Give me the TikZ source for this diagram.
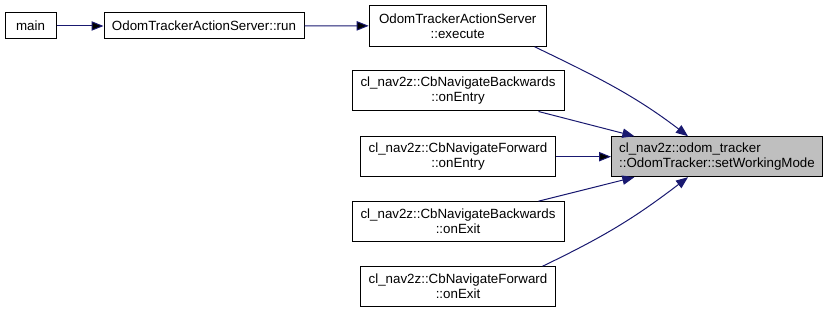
\documentclass[tikz,border=0pt]{standalone}
\usepackage{fontspec}
\setmainfont{Liberation Sans}
\usetikzlibrary{arrows.meta, positioning}
\usepackage{xcolor}
\definecolor{callblue}{HTML}{191970}
\definecolor{hilite}{HTML}{BFBFBF}

\begin{document}
\begin{tikzpicture}
[x = .75pt, y = -.75pt, font = \fontsize{10}{11.25}\selectfont,
 fn/.style = {rectangle, draw=black, line width=.75pt, fill=white, inner sep=0pt, align=center},
 call/.style = {-{Triangle[length=9pt, width=7pt]}, draw=callblue, line width=.75pt}]
\useasboundingbox (0,0) rectangle (828,313);

\node[fn, minimum width=38.25pt, minimum height=19.5pt] (n1) at (30.5,26) {main};
\node[fn, minimum width=150pt, minimum height=19.5pt] (n2) at (204,26) {OdomTrackerActionServer::run};
\node[fn, minimum width=132.75pt, minimum height=30.75pt] (n3) at (457.7,25.8) {OdomTrackerActionServer\\::execute};
\node[fn, minimum width=159pt, minimum height=30pt] (n4) at (458,91) {cl\_nav2z::CbNavigateBackwards\\::onEntry};
\node[fn, minimum width=146.25pt, minimum height=30pt] (n5) at (458,156.7) {cl\_nav2z::CbNavigateForward\\::onEntry};
\node[fn, minimum width=159pt, minimum height=30pt] (n6) at (458,221.7) {cl\_nav2z::CbNavigateBackwards\\::onExit};
\node[fn, minimum width=146.25pt, minimum height=30pt] (n7) at (458,286.7) {cl\_nav2z::CbNavigateForward\\::onExit};
\node[fn, fill=hilite, align=left, minimum width=158.25pt, minimum height=30pt] (n8) at (717,156.7) {cl\_nav2z::odom\_tracker\\::OdomTracker::setWorkingMode};

\draw[call] (n1) edge (n2) (n2) edge (n3) (n5) edge (n8);
\draw[call] ([xshift=-9pt]n3.south east) .. controls +(60,29) and +(-55,-42) .. ([xshift=-21.75pt]n8.north);
\draw[call] ([xshift=-19.5pt]n4.south east) -- ([xshift=17.5pt]n8.north west);
\draw[call] ([xshift=-19.5pt]n6.north east) -- ([xshift=17.5pt]n8.south west);
\draw[call] ([xshift=-10pt]n7.north east) .. controls +(60,-29) and +(-55,42) .. ([xshift=-21.75pt]n8.south);

\end{tikzpicture}
\end{document}
